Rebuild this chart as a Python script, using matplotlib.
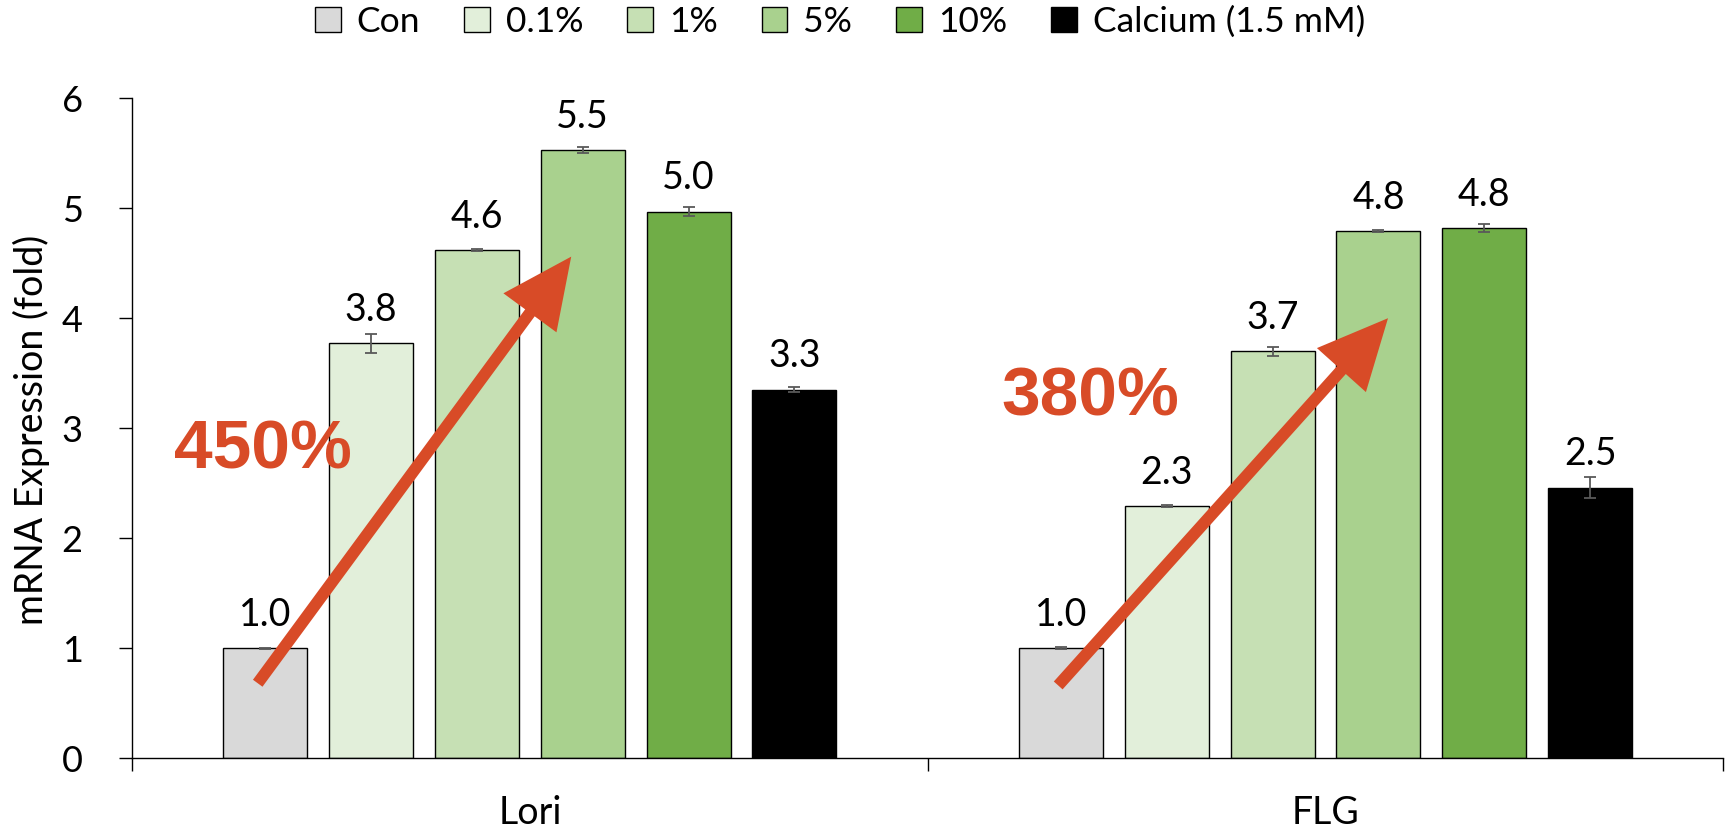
import matplotlib
matplotlib.use("Agg")
import matplotlib.pyplot as plt
from matplotlib.patches import FancyArrowPatch
import numpy as np

plt.rcParams['font.family'] = ['Lato', 'DejaVu Sans']

categories = ["Lori", "FLG"]
series = ["Con", "0.1%", "1%", "5%", "10%", "Calcium (1.5 mM)"]
colors = ["#D9D9D9", "#E2EFDA", "#C6E0B4", "#A9D18E", "#70AD47", "#000000"]
values = {
    "Lori": [1.00, 3.77, 4.62, 5.53, 4.97, 3.35],
    "FLG":  [1.00, 2.29, 3.70, 4.79, 4.82, 2.46],
}
errors = {
    "Lori": [0.005, 0.086, 0.005, 0.025, 0.04, 0.025],
    "FLG":  [0.01, 0.01, 0.04, 0.01, 0.036, 0.093],
}
labels = {
    "Lori": ["1.0", "3.8", "4.6", "5.5", "5.0", "3.3"],
    "FLG":  ["1.0", "2.3", "3.7", "4.8", "4.8", "2.5"],
}
pct_text = ["450%", "380%"]
pct_pos = [(-0.336, 2.80), (0.705, 3.28)]
arrows = [((-0.342, 0.68), (0.052, 4.56)), ((0.664, 0.66), (1.0785, 4.00))]

W, H = 1725, 832
fig = plt.figure(figsize=(W / 100, H / 100), dpi=100)
ax = fig.add_axes([132 / W, 1 - 758 / H, (1723.4 - 132) / W, (758 - 98.3) / H])

spacing = 0.133
bw = 0.1055
x = np.arange(len(categories))
handles = []
for i, s in enumerate(series):
    xs = x + (i - 2.5) * spacing
    vals = [values[c][i] for c in categories]
    errs = [errors[c][i] for c in categories]
    b = ax.bar(xs, vals, width=bw, color=colors[i], edgecolor="black",
               linewidth=1.0, label=s, zorder=2)
    handles.append(b)
    ax.errorbar(xs, vals, yerr=errs, fmt="none", ecolor="#595959",
                elinewidth=1.3, capsize=4, capthick=1.3, zorder=3)
    for xi, v, c in zip(xs, vals, categories):
        ax.annotate(labels[c][i], (xi, v), xytext=(0, 16), textcoords="offset points",
                    ha="center", va="baseline", fontsize=27, color="black", zorder=4)

ax.set_xlim(-0.5, 1.5)
ax.set_ylim(0, 6)
ax.set_yticks(range(7))
ax.set_xticks(x)
ax.set_xticklabels(categories)
ax.set_xticks([-0.5, 0.5, 1.5], minor=True)
ax.tick_params(axis="x", which="major", length=0, pad=27, labelsize=27)
ax.tick_params(axis="x", which="minor", length=9.5, width=1.0, direction="out")
ax.tick_params(axis="y", length=9.5, width=1.0, direction="out", pad=26, labelsize=26)
for sp in ["top", "right"]:
    ax.spines[sp].set_visible(False)
for sp in ["left", "bottom"]:
    ax.spines[sp].set_linewidth(1.0)
    ax.spines[sp].set_color("black")

fig.text(31 / W, 1 - 430 / H, "mRNA Expression (fold)", rotation=90,
         ha="center", va="center", fontsize=27)

acol = "#D84B27"
for (p0, p1) in arrows:
    arr = FancyArrowPatch(p0, p1, arrowstyle="-|>,head_length=3.6,head_width=1.7",
                          mutation_scale=10, color=acol, lw=8.5, shrinkA=0, shrinkB=0,
                          joinstyle="miter", capstyle="butt", zorder=5)
    ax.add_patch(arr)
for t, (px, py) in zip(pct_text, pct_pos):
    ax.text(px, py, t, ha="center", va="center", fontsize=50, fontweight="bold",
            family="Liberation Sans", color=acol, zorder=6)

fig.legend(handles=handles, labels=series, loc="center", ncol=6,
           bbox_to_anchor=(840 / W, 1 - 22 / H), frameon=False, fontsize=25.5,
           handlelength=0.72, handleheight=0.72, handletextpad=0.45,
           columnspacing=1.25, borderaxespad=0)

fig.savefig("out.png", dpi=100)
